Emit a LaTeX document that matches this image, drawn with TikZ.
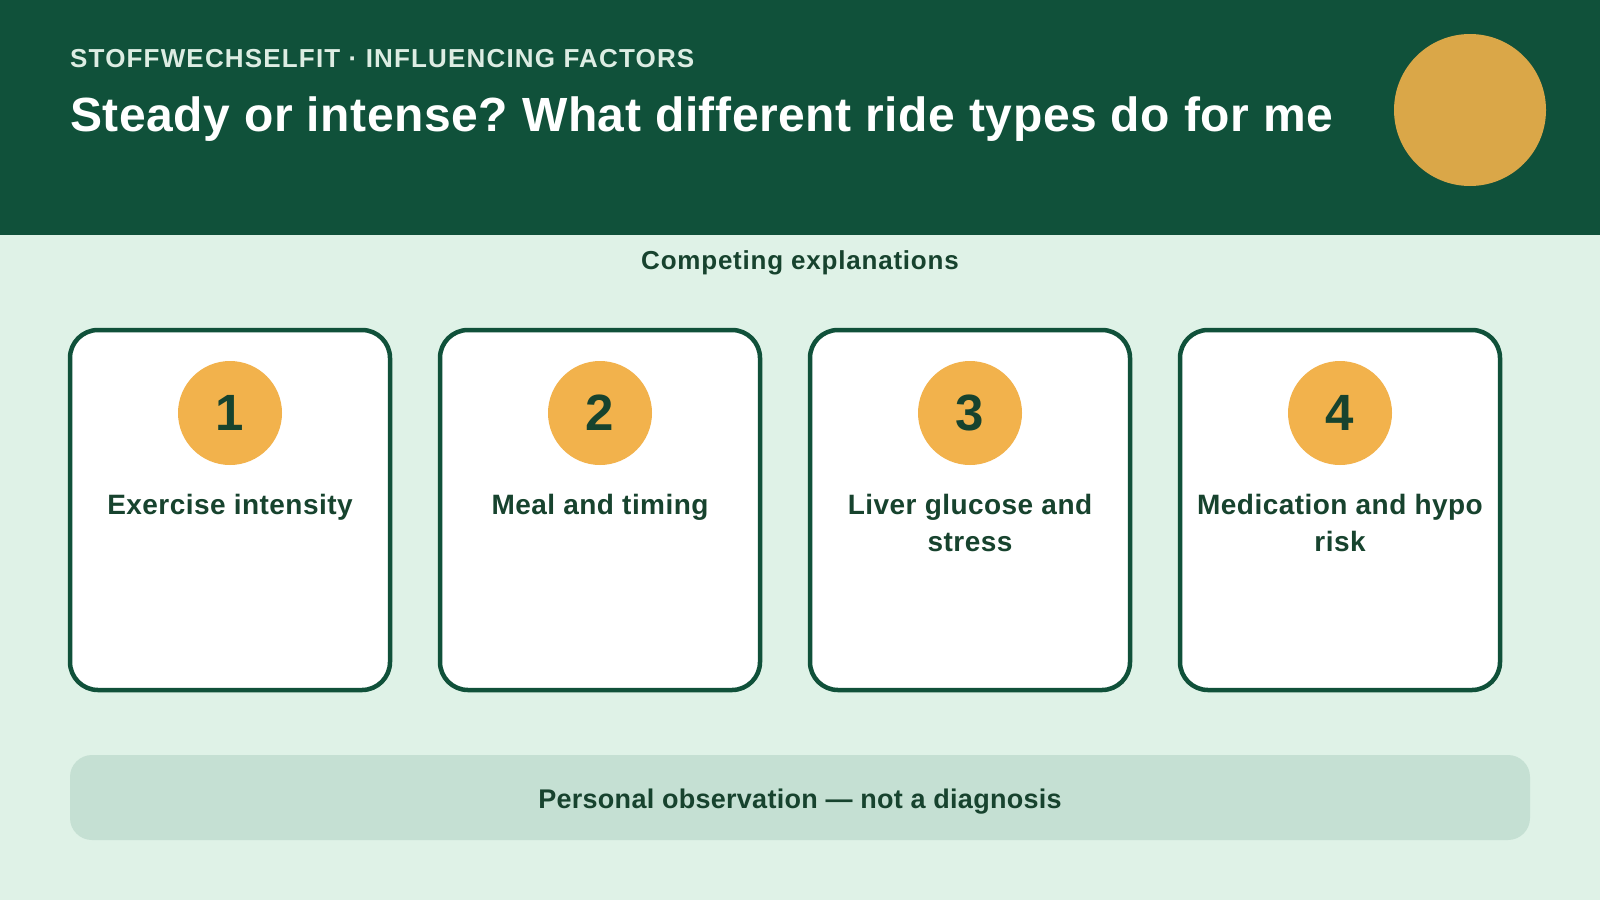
\documentclass[tikz,border=0pt]{standalone}
\usepackage{fontspec}
\setmainfont{Liberation Sans}
\frenchspacing
\definecolor{hdr}{HTML}{10513A}
\definecolor{bgc}{HTML}{DFF2E7}
\definecolor{barc}{HTML}{C5E0D3}
\definecolor{numc}{HTML}{F2B24C}
\definecolor{sunc}{HTML}{DAA748}
\definecolor{ink}{HTML}{17432E}
\definecolor{subc}{HTML}{DDEDE3}
\newcommand{\lsp}[1]{\addfontfeature{LetterSpace=#1}}
\tikzset{
  card/.style={draw=hdr, line width=4.5pt, fill=white, rounded corners=28pt},
  numdot/.style={circle, fill=numc, minimum size=104pt, inner sep=0pt, text=ink, font=\fontsize{51}{51}\selectfont\bfseries},
  cardlabel/.style={anchor=base, align=center, text=ink, inner sep=0pt, font=\fontsize{28}{37}\selectfont\bfseries\lsp{1.6}},
}
\begin{document}
\begin{tikzpicture}[x=1pt, y=-1pt]
\useasboundingbox (0,0) rectangle (1600,900);
\fill[bgc] (0,0) rectangle (1600,900);
\fill[hdr] (0,0) rectangle (1600,235);
\fill[sunc] (1470,110) circle (76);
\node[anchor=base west, inner sep=0pt, text=subc, font=\fontsize{26}{26}\selectfont\bfseries\lsp{4.5}] (kicker) at (70,67) {STOFFWECHSELFIT · INFLUENCING FACTORS};
\node[anchor=base west, inner sep=0pt, text=white, font=\fontsize{48}{48}\selectfont\bfseries\lsp{1.2}] (title) at (70,131) {Steady or intense? What different ride types do for me};
\node[anchor=base, inner sep=0pt, text=ink, font=\fontsize{26}{26}\selectfont\bfseries\lsp{3}] (section) at (800,269) {Competing explanations};
\foreach \i/\ly/\lbl in {1/514/{Exercise intensity}, 2/514/{Meal and timing}, 3/551/{Liver glucose and\\stress}, 4/551/{Medication and hypo\\risk}} {
  \pgfmathsetmacro{\cx}{230+370*(\i-1)}
  \draw[card] (\cx-160,330) rectangle (\cx+160,690);
  \node[numdot] (n\i) at (\cx,413) {\i};
  \node[cardlabel] (l\i) at (\cx,\ly) {\lbl};
}
\fill[barc, rounded corners=22pt] (70,755) rectangle (1530,840);
\node[anchor=base, inner sep=0pt, text=ink, font=\fontsize{27}{27}\selectfont\bfseries\lsp{1}] (note) at (800,808) {Personal observation — not a diagnosis};
\end{tikzpicture}
\end{document}
